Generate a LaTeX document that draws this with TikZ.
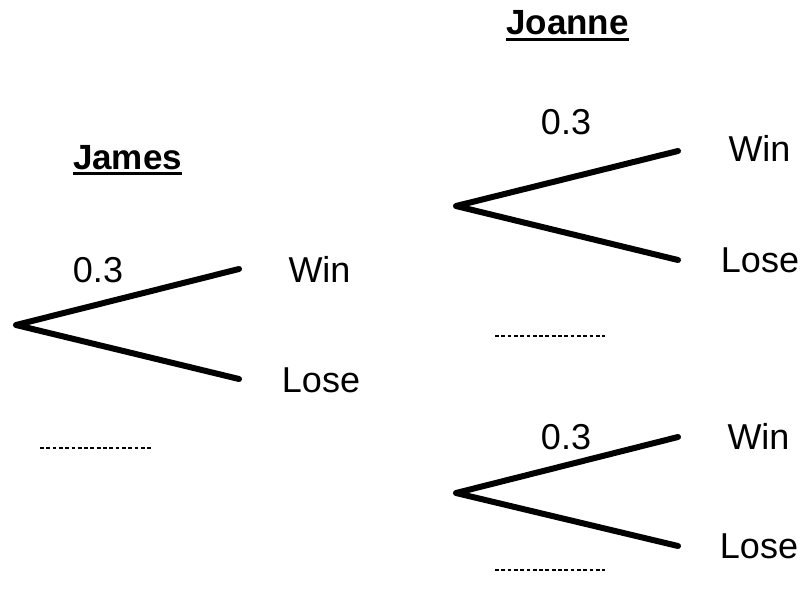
\documentclass[tikz,border=0pt]{standalone}
\usepackage{fontspec}
\setmainfont{Liberation Sans}
\begin{document}
\begin{tikzpicture}[x=1pt,y=-1pt,
  branch/.style={line width=6pt,line cap=round,line join=round},
  lbl/.style={font=\fontsize{36}{40}\selectfont,inner sep=0pt,anchor=base},
  head/.style={font=\fontsize{35}{40}\selectfont\bfseries,inner sep=0pt,anchor=base},
  uline/.style={line width=2.6pt},
  blank/.style={line width=1.8pt,dash pattern=on 3.8pt off 2.5pt}]
\useasboundingbox (0,0) rectangle (805,602);
% headings
\node[head] (james) at (127.5,169) {James};
\draw[uline] ([yshift=-4.5pt]james.base west) -- ([yshift=-4.5pt]james.base east);
\node[head] (joanne) at (567.5,35) {Joanne};
\draw[uline] ([yshift=-4.5pt]joanne.base west) -- ([yshift=-4.5pt]joanne.base east);
% James tree
\coordinate (r1) at (16,325);
\coordinate (w1) at (239,269);
\coordinate (l1) at (239,379);
\draw[branch] (w1) -- (r1) -- (l1);
\node[lbl] (p1) at (98,282) {0.3};
\node[lbl] (tw1) at (319.5,282) {Win};
\node[lbl] (tl1) at (321,392) {Lose};
\coordinate (d1a) at (40,448);
\coordinate (d1b) at (152,448);
\draw[blank] (d1a) -- (d1b);
% Joanne top tree
\coordinate (r2) at (456,206);
\coordinate (w2) at (678,151);
\coordinate (l2) at (678,260);
\draw[branch] (w2) -- (r2) -- (l2);
\node[lbl] (p2) at (566,134) {0.3};
\node[lbl] (tw2) at (759.5,161) {Win};
\node[lbl] (tl2) at (760,272) {Lose};
\coordinate (d2a) at (495,336);
\coordinate (d2b) at (605,336);
\draw[blank] (d2a) -- (d2b);
% Joanne bottom tree
\coordinate (r3) at (456,493);
\coordinate (w3) at (678,437);
\coordinate (l3) at (678,546);
\draw[branch] (w3) -- (r3) -- (l3);
\node[lbl] (p3) at (566,449) {0.3};
\node[lbl] (tw3) at (758.5,449) {Win};
\node[lbl] (tl3) at (759,558) {Lose};
\coordinate (d3a) at (495,570);
\coordinate (d3b) at (605,570);
\draw[blank] (d3a) -- (d3b);
\end{tikzpicture}
\end{document}
